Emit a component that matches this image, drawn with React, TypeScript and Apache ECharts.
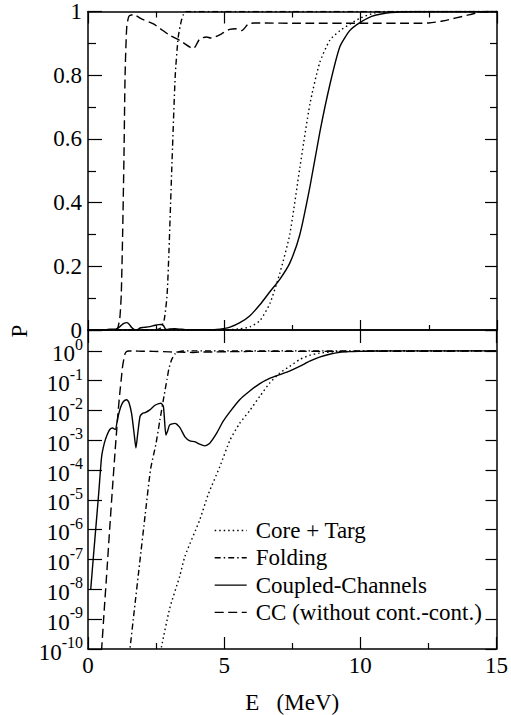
import React, { useEffect, useRef } from "react";
import * as echarts from "echarts";

// ---------- data (E in MeV, P = probability) ----------
const coreE = [0, 2.6, 2.7, 3.0, 3.37, 3.56, 4.1, 4.41, 4.84, 5.21, 5.57, 5.94, 6.31, 6.67, 7.04, 7.4, 7.77, 8.14, 8.5, 8.87, 9.24, 9.6, 10.0, 10.5, 11, 15];
const coreP = [0, 4e-11, 1.2e-10, 2.3e-9, 2.8e-8, 1.3e-7, 2.1e-6, 1.5e-5, 1.3e-4, 1e-3, 3.7e-3, 1e-2, 3e-2, 8.3e-2, 0.18, 0.3, 0.51, 0.71, 0.84, 0.91, 0.94, 0.96, 0.98, 0.995, 1.0, 1.0];

const foldE = [0, 1.45, 1.54, 1.7, 1.9, 2.1, 2.3, 2.5, 2.64, 2.79, 2.9, 2.97, 3.07, 3.2, 3.31, 3.42, 3.5, 3.6, 15];
const foldP = [0, 2e-11, 1e-10, 2e-9, 8e-8, 3.2e-6, 1.1e-4, 8e-4, 4.8e-3, 3e-2, 0.11, 0.25, 0.5, 0.8, 0.92, 0.97, 0.99, 1.0, 1.0];

const ccE = [0.1, 0.2, 0.3, 0.4, 0.5, 0.6, 0.7, 0.8, 0.9, 1.0, 1.1, 1.2, 1.3, 1.42, 1.5, 1.6, 1.7, 1.76, 1.82, 1.91, 2.0, 2.1, 2.27, 2.46, 2.6, 2.68, 2.77, 2.86, 2.92, 3.0, 3.19, 3.37, 3.56, 3.74, 3.92, 4.1, 4.29, 4.47, 4.72, 4.96, 5.21, 5.57, 5.94, 6.31, 6.67, 7.04, 7.4, 7.77, 8.14, 8.5, 8.87, 9.24, 9.6, 9.97, 10.4, 10.8, 11.5, 12, 15];
const ccP = [1e-8, 1.3e-7, 1.6e-6, 2e-5, 2.8e-4, 8e-4, 1.5e-3, 2.3e-3, 2.6e-3, 2.3e-3, 6e-3, 1.3e-2, 2e-2, 2.3e-2, 1.9e-2, 8e-3, 1.5e-3, 5.5e-4, 1.5e-3, 6.3e-3, 8e-3, 8.5e-3, 1.05e-2, 1.5e-2, 1.7e-2, 1.75e-2, 1.35e-2, 1.5e-3, 2e-3, 3.3e-3, 3.7e-3, 2.7e-3, 1.3e-3, 9.5e-4, 9e-4, 7.4e-4, 6.5e-4, 8e-4, 1.7e-3, 4.3e-3, 9e-3, 2.3e-2, 4.5e-2, 8e-2, 0.12, 0.16, 0.21, 0.3, 0.45, 0.62, 0.77, 0.89, 0.94, 0.965, 0.985, 0.993, 0.999, 1.0, 1.0];

const nocE = [0, 0.45, 0.5, 0.6, 0.7, 0.8, 0.9, 1.0, 1.05, 1.1, 1.17, 1.22, 1.27, 1.32, 1.36, 1.42, 1.5, 1.66, 2.0, 2.4, 3.0, 3.37, 3.74, 3.86, 3.97, 4.1, 4.35, 4.5, 4.66, 4.9, 5.2, 5.45, 5.64, 5.88, 6.1, 8.0, 10.0, 12.0, 12.5, 13.0, 13.5, 14.0, 14.4, 15.0];
const nocP = [0, 3e-11, 1e-10, 2.3e-9, 5e-8, 1.2e-6, 2.6e-5, 5e-4, 2e-3, 8e-3, 0.04, 0.11, 0.3, 0.55, 0.8, 0.95, 0.985, 0.99, 0.975, 0.961, 0.925, 0.909, 0.888, 0.883, 0.895, 0.914, 0.92, 0.917, 0.92, 0.93, 0.944, 0.946, 0.94, 0.961, 0.964, 0.963, 0.963, 0.963, 0.964, 0.97, 0.98, 0.99, 0.998, 1.0];

const seriesNames = ["Core + Targ", "Folding", "Coupled-Channels", "CC (without cont.-cont.)"];
const xTicks = { min: 0, max: 15, interval: 5 };
const linTicks = { min: 0, max: 1, interval: 0.2 };
const logTicks = { min: -10, max: 0.7, interval: 1 };

const FONT = "'Liberation Serif', 'Times New Roman', 'DejaVu Serif', serif";

const defs = [
  { name: seriesNames[0], E: coreE, P: coreP, dash: [1.5, 3] as any },
  { name: seriesNames[1], E: foldE, P: foldP, dash: [6, 3, 1.5, 3] as any },
  { name: seriesNames[2], E: ccE, P: ccP, dash: "solid" as any },
  { name: seriesNames[3], E: nocE, P: nocP, dash: [9, 4.5] as any },
];

const black = "#000";

function linPairs(E: number[], P: number[]) {
  return E.map((e, i) => [e, P[i]]);
}
function logPairs(E: number[], P: number[]) {
  return E.map((e, i) => [e, P[i]])
    .filter((d) => d[1] > 0)
    .map((d) => [d[0], Math.log10(d[1])]);
}

export default function App() {
  const ref = useRef<HTMLDivElement>(null);
  useEffect(() => {
    if (!ref.current) return;
    const chart = echarts.init(ref.current, undefined, { renderer: "svg" });
    const axisLine = { show: true, onZero: false, lineStyle: { color: black, width: 1.5 } };
    const tickStyle = { color: black, width: 1.2 };
    const xBase = (gridIndex: number, position: string, len: number, minorLen: number, labels: boolean) => ({
      type: "value",
      gridIndex,
      position,
      ...xTicks,
      axisLine,
      axisTick: { show: true, inside: true, length: len, lineStyle: tickStyle },
      minorTick: { show: minorLen > 0, splitNumber: 2, length: minorLen, lineStyle: tickStyle },
      splitLine: { show: false },
      axisLabel: {
        show: labels,
        fontFamily: FONT,
        fontSize: 23,
        color: black,
        margin: 5,
      },
    });
    const option: any = {
      animation: false,
      textStyle: { fontFamily: FONT },
      grid: [
        { left: 88, top: 11, width: 409, height: 319 },
        { left: 88, top: 330, width: 409, height: 319 },
      ],
      xAxis: [
        xBase(0, "bottom", 10, 5, false),
        xBase(0, "top", 12, 6, false),
        {
          ...xBase(1, "bottom", 12, 6, true),
          name: "E\u00A0\u00A0\u00A0(MeV)",
          nameLocation: "middle",
          nameGap: 42,
          nameTextStyle: { fontFamily: FONT, fontSize: 23, color: black },
        },
        xBase(1, "top", 13, 0, false),
      ],
      yAxis: [
        {
          type: "value",
          gridIndex: 0,
          position: "left",
          ...linTicks,
          axisLine,
          axisTick: { show: true, inside: true, length: 14, lineStyle: tickStyle },
          minorTick: { show: true, splitNumber: 2, length: 8, lineStyle: tickStyle },
          splitLine: { show: false },
          axisLabel: { fontFamily: FONT, fontSize: 23, lineHeight: 14, color: black, margin: 6 },
        },
        {
          type: "value",
          gridIndex: 0,
          position: "right",
          ...linTicks,
          axisLine,
          axisTick: { show: true, inside: true, length: 12, lineStyle: tickStyle },
          minorTick: { show: true, splitNumber: 2, length: 7, lineStyle: tickStyle },
          splitLine: { show: false },
          axisLabel: { show: false },
        },
        {
          type: "value",
          gridIndex: 1,
          position: "left",
          ...logTicks,
          axisLine,
          axisTick: { show: true, inside: true, length: 14, lineStyle: tickStyle },
          splitLine: { show: false },
          axisLabel: {
            margin: 5,
            color: black,
            fontFamily: FONT,
            formatter: (v: number) => {
              const r = Math.round(v);
              if (Math.abs(v - r) > 1e-6) return "";
              return `{b|10}{s|${r}}`;
            },
            rich: {
              b: { fontFamily: FONT, fontSize: 23, color: black, verticalAlign: "bottom", padding: [6, 0, 0, 0] },
              s: { fontFamily: FONT, fontSize: 16, color: black, verticalAlign: "top" },
            },
          },
        },
        {
          type: "value",
          gridIndex: 1,
          position: "right",
          ...logTicks,
          axisLine,
          axisTick: { show: true, inside: true, length: 11, lineStyle: tickStyle },
          splitLine: { show: false },
          axisLabel: { show: false },
        },
      ],
      legend: {
        orient: "vertical",
        left: 209,
        top: 514,
        itemWidth: 32,
        itemHeight: 14,
        itemGap: 4.3,
        selectedMode: false,
        data: seriesNames,
        lineStyle: { width: 1.4 },
        itemStyle: { opacity: 0 },
        textStyle: { fontFamily: FONT, fontSize: 23, color: black, lineHeight: 23, padding: [0, 0, 0, 4] },
      },
      graphic: [
        {
          type: "text",
          x: 19,
          y: 331,
          rotation: Math.PI / 2,
          style: { text: "P", fontFamily: FONT, fontSize: 23, fill: black, align: "center", verticalAlign: "middle" },
        },
      ],
      series: defs.flatMap((d) => [
        {
          type: "line",
          name: d.name,
          xAxisIndex: 0,
          yAxisIndex: 0,
          data: linPairs(d.E, d.P),
          symbol: "none",
          smooth: 0.2,
          silent: true,
          clip: true,
          lineStyle: { color: black, width: 1.4, type: d.dash, cap: "butt" },
          itemStyle: { color: black },
        },
        {
          type: "line",
          name: d.name,
          xAxisIndex: 2,
          yAxisIndex: 2,
          data: logPairs(d.E, d.P),
          symbol: "none",
          smooth: 0.2,
          silent: true,
          clip: true,
          lineStyle: { color: black, width: 1.4, type: d.dash, cap: "butt" },
          itemStyle: { color: black },
        },
      ]),
    };
    chart.setOption(option);
    return () => chart.dispose();
  }, []);
  return (
    <div
      ref={ref}
      style={{ position: "absolute", left: 0, top: 0, width: 511, height: 715, background: "#fff" }}
    />
  );
}
